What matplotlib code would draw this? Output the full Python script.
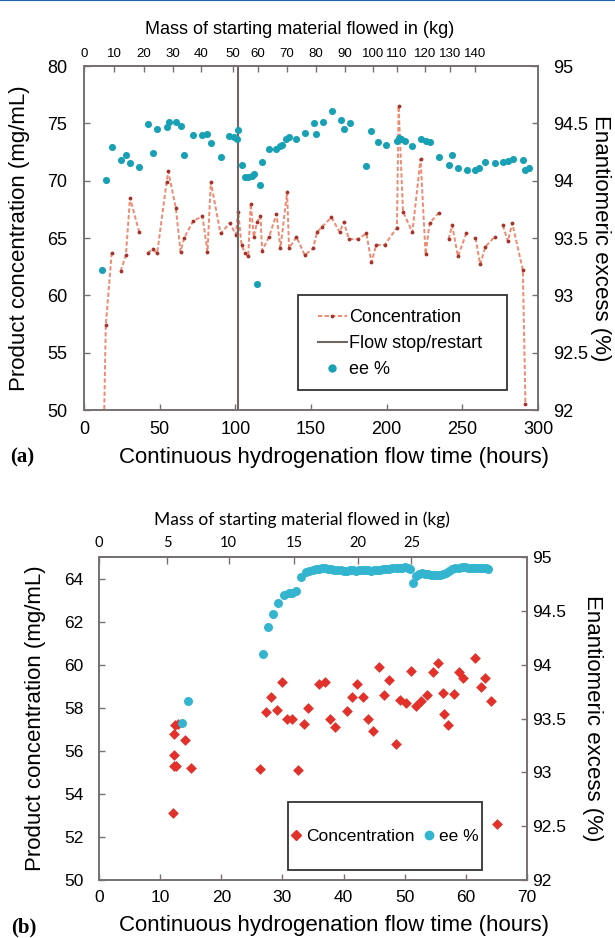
import numpy as np
import matplotlib
matplotlib.use('Agg')
import matplotlib.pyplot as plt
from matplotlib.patches import Rectangle
from matplotlib.lines import Line2D
from matplotlib.ticker import FormatStrFormatter

nan = np.nan

# ---- panel (a): long run, concentration line + ee points ----
# nan = gap in the concentration trace
a_conc_hours = [13.3, 14.4, 18.3, nan, 24.2, 27.7, 30.4, 36.5, nan, 42.0, 45.3, 48.4, 54.6, 55.7,
                60.7, 63.8, 66.2, 72.2, 78.3, 81.6, 83.8, 90.2, 96.4, 100.3, 101.9, 104.1, 106.3,
                108.5, 110.2, 112.2, 114.4, 116.6, 117.7, 122.3, 127.2, 129.8, 134.2, 135.5, 140.4,
                145.9, 151.4, 154.0, 157.5, 163.5, 169.0, 171.6, 175.1, 181.1, 186.6, 189.9, 193.2,
                198.7, 206.8, 207.9, 210.8, 217.0, 222.4, 225.7, 228.4, 234.5, nan, 240.9, 243.3,
                247.1, 252.6, nan, 258.7, 261.8, 265.3, 271.3, nan, 276.8, 280.1, 283.0, 290.0, 291.7]
a_conc = [49.5, 57.4, 63.7, nan, 62.1, 63.5, 68.5, 65.5, nan, 63.7, 64.0, 63.7, 69.9, 70.8,
          67.6, 63.8, 65.0, 66.5, 66.9, 63.8, 69.9, 65.4, 66.3, 65.3, 67.3, 64.4, 63.7,
          63.4, 68.0, 65.1, 66.4, 66.9, 63.9, 65.1, 67.1, 64.1, 69.0, 64.1, 65.1,
          63.5, 64.1, 65.5, 66.0, 66.8, 65.5, 66.4, 64.9, 64.9, 65.4, 62.9, 64.4,
          64.4, 65.9, 76.5, 67.3, 65.5, 71.9, 63.6, 66.3, 67.2, nan, 64.9, 66.1,
          63.4, 65.4, nan, 65.0, 62.7, 64.25, 65.1, nan, 66.1, 64.7, 66.3, 62.2, 50.5]

a_ee_hours = [12.1, 14.3, 18.3, 24.2, 27.7, 30.4, 36.5, 42.5, 45.7, 48.4, 54.6, 56.1, 60.7, 63.8,
              66.2, 72.2, 78.3, 81.6, 84.2, 90.2, 96.1, 99.2, 101.3, 101.9, 104.5, 106.3, 108.5,
              110.7, 112.2, 114.0, 116.2, 117.3, 122.3, 127.2, 129.4, 130.9, 133.8, 135.5, 140.4,
              145.9, 151.8, 153.6, 158.0, 164.2, 170.1, 171.6, 176.0, 186.6, 189.5, 194.3, 199.8,
              206.8, 207.9, 209.7, 211.9, 217.0, 222.4, 225.7, 228.4, 234.9, 240.9, 243.3, 247.1,
              253.0, 258.1, 260.9, 265.3, 271.3, 276.8, 280.1, 283.4, 290.0, 291.7, 293.9]
a_ee = [93.22, 94.01, 94.29, 94.18, 94.22, 94.15, 94.12, 94.49, 94.24, 94.45, 94.47, 94.51, 94.51, 94.48,
        94.22, 94.40, 94.40, 94.41, 94.33, 94.21, 94.39, 94.38, 94.36, 94.44, 94.14, 94.03, 94.03,
        94.04, 94.06, 93.10, 93.96, 94.16, 94.28, 94.28, 94.30, 94.31, 94.36, 94.38, 94.36,
        94.42, 94.50, 94.41, 94.51, 94.61, 94.53, 94.45, 94.50, 94.13, 94.43, 94.34, 94.31,
        94.35, 94.37, 94.36, 94.35, 94.30, 94.36, 94.35, 94.34, 94.21, 94.14, 94.22, 94.11,
        94.09, 94.09, 94.11, 94.16, 94.15, 94.16, 94.17, 94.19, 94.18, 94.09, 94.11]

a_flow_stop = 102
a_mass_kg = [0, 10, 20, 30, 40, 50, 60, 70, 80, 90, 100, 110, 120, 130, 140]
a_mass_hours = [0, 19.8, 39.6, 58.7, 77.2, 98.3, 114.9, 134.0, 153.1, 172.3, 190.8, 206.6,
                225.1, 241.6, 258.7]

# ---- panel (b): short run, scatter only ----
b_conc_hours = [12.1, 12.2, 12.2, 12.3, 12.45, 12.6, 12.9, 14.0, 15.0,
                26.3, 27.25, 28.2, 29.1, 30.0, 30.7, 31.6, 32.6, 33.45, 34.2,
                36.0, 37.0, 37.8, 38.65, 40.5, 41.35, 42.2, 43.2, 44.0, 44.8,
                45.8, 46.6, 47.5, 48.5, 49.3, 50.2, 51.0, 51.9, 52.7, 53.7,
                54.55, 55.4, 56.3, 56.5, 57.0, 58.0, 58.8, 59.6, 61.5, 62.45,
                63.2, 64.1, 65.1]
b_conc = [53.1, 55.3, 56.8, 55.8, 57.2, 55.3, 57.25, 56.5, 55.2,
          55.15, 57.8, 58.5, 57.9, 59.2, 57.5, 57.5, 55.1, 57.25, 58.0,
          59.1, 59.2, 57.5, 57.1, 57.85, 58.5, 59.1, 58.5, 57.5, 56.9,
          59.9, 58.6, 59.3, 56.3, 58.35, 58.2, 59.7, 58.1, 58.3, 58.6,
          59.65, 60.1, 58.7, 57.7, 57.2, 58.65, 59.65, 59.4, 60.3, 58.95,
          59.4, 58.3, 52.6]

b_ee_hours = [13.65, 14.5, 26.9, 27.6, 28.5, 29.3, 30.3, 31.0, 31.6, 32.2, 33.0, 33.8, 34.4,
              35.0, 35.5, 36.0, 36.5, 37.0, 37.5, 38.0, 38.5, 39.0, 39.5, 40.0, 40.5, 41.0,
              41.5, 42.0, 42.5, 43.0, 43.5, 44.0, 44.5, 45.0, 45.5, 46.0, 46.5, 47.0, 47.5,
              48.0, 48.5, 49.0, 49.5, 50.0, 50.5, 50.9, 51.3, 51.8, 52.3, 52.8, 53.3, 53.8,
              54.3, 54.8, 55.3, 55.8, 56.3, 56.8, 57.3, 57.8, 58.3, 58.8, 59.3, 59.8, 60.3,
              60.8, 61.3, 61.8, 62.3, 62.8, 63.3, 63.7]
b_ee = [93.46, 93.66, 94.10, 94.35, 94.47, 94.57, 94.65, 94.67, 94.67, 94.68, 94.81, 94.86, 94.87,
        94.88, 94.89, 94.89, 94.90, 94.90, 94.89, 94.89, 94.88, 94.88, 94.88, 94.87, 94.87, 94.88,
        94.88, 94.87, 94.88, 94.88, 94.88, 94.88, 94.87, 94.88, 94.88, 94.88, 94.89, 94.89, 94.89,
        94.90, 94.90, 94.90, 94.90, 94.91, 94.90, 94.89, 94.76, 94.82, 94.84, 94.85, 94.84, 94.84,
        94.83, 94.83, 94.83, 94.83, 94.84, 94.85, 94.87, 94.89, 94.90, 94.90, 94.91, 94.91, 94.90,
        94.90, 94.90, 94.90, 94.90, 94.90, 94.90, 94.89]

b_mass_kg = [0, 5, 10, 15, 20, 25]
b_mass_hours = [0, 11.2, 21.2, 31.9, 42.4, 51.1]

ee_ticks = [92, 92.5, 93, 93.5, 94, 94.5, 95]

plt.rcParams['font.family'] = ['Liberation Sans', 'DejaVu Sans']

spine_col = '#777070'
W, H = 615, 938


def box(l, t, r, b):
    return [l / W, 1 - b / H, (r - l) / W, (b - t) / H]


def style(ax, left_pad, bottom_pad, size):
    for s in ax.spines.values():
        s.set_color(spine_col)
        s.set_linewidth(1.2)
    ax.tick_params(direction='in', length=4, width=1, color=spine_col, labelsize=size)
    ax.tick_params(axis='y', pad=left_pad)
    ax.tick_params(axis='x', pad=bottom_pad)


fig = plt.figure(figsize=(6.15, 9.38), dpi=100)
fig.add_artist(Line2D([0, 1], [0.9995, 0.9995], color='#1f5fa8', lw=1.5))

# ================= (a) =================
ax = fig.add_axes(box(84, 66, 538, 410))
ax.plot(a_conc_hours, a_conc, ls=(0, (2.2, 1.2)), lw=1.4, color='#ef8a72',
        marker='.', ms=3.5, mfc='#a5352b', mec='#a5352b')
ax.axvline(a_flow_stop, color='#6f6562', lw=1.5)
ax.set_xlim(0, 300)
ax.set_ylim(50, 80)
ax.set_xticks(range(0, 301, 50))
ax.set_yticks(range(50, 81, 5))
style(ax, 12, 8, 13)

ax2 = ax.twinx()
ax2.scatter(a_ee_hours, a_ee, s=26, color='#18a0b4', linewidths=0, zorder=3)
ax2.set_ylim(92, 95)
ax2.set_yticks(ee_ticks)
ax2.yaxis.set_major_formatter(FormatStrFormatter('%g'))
style(ax2, 11, 8, 13)

top = ax.secondary_xaxis('top')
top.set_xticks(a_mass_hours, labels=[str(m) for m in a_mass_kg])
top.tick_params(direction='in', length=4, width=1, color=spine_col, labelsize=9.5, pad=4)
top.spines['top'].set_color(spine_col)
top.spines['top'].set_linewidth(1.2)

ax2.add_patch(Rectangle((0.4714, 0.0581), 0.4604, 0.2762, transform=ax2.transAxes,
                        facecolor='white', edgecolor='#333333', lw=1.3, zorder=5))
handles_a = [
    Line2D([], [], ls=(0, (2.2, 1.2)), lw=1.4, color='#ef8a72', marker='.', ms=3.5,
           mfc='#a5352b', mec='#a5352b'),
    Line2D([], [], color='#6f6562', lw=1.5),
    Line2D([], [], ls='none', marker='o', ms=5, color='#18a0b4'),
]
leg = ax2.legend(handles_a, ['Concentration', 'Flow stop/restart', 'ee %'],
                 loc='center left', bbox_to_anchor=(0.515, 0.192), frameon=False,
                 fontsize=13, handlelength=1.6, handletextpad=0.15, labelspacing=0.5,
                 borderpad=0, borderaxespad=0)
leg.set_zorder(6)

fig.text(300 / W, 1 - 30 / H, 'Mass of starting material flowed in (kg)', ha='center', va='center', fontsize=13)
fig.text(334 / W, 1 - 457 / H, 'Continuous hydrogenation flow time (hours)', ha='center', va='center', fontsize=16)
fig.text(20 / W, 1 - 238 / H, 'Product concentration (mg/mL)', ha='center', va='center', rotation=90, fontsize=16)
fig.text(601 / W, 1 - 238 / H, 'Enantiomeric excess (%)', ha='center', va='center', rotation=270, fontsize=16)
fig.text(22 / W, 1 - 457 / H, '(a)', ha='center', va='center', fontsize=15, fontweight='bold',
         family='Liberation Serif')

# ================= (b) =================
bx = fig.add_axes(box(99, 557, 527, 880))
bx.scatter(b_conc_hours, b_conc, marker='D', s=30, color='#e2302a', linewidths=0, zorder=3)
bx.set_xlim(0, 70)
bx.set_ylim(50, 65)
bx.set_xticks(range(0, 71, 10))
bx.set_yticks(range(50, 65, 2))
style(bx, 11, 7, 12.5)

bx2 = bx.twinx()
bx2.scatter(b_ee_hours, b_ee, s=42, color='#33b5d0', linewidths=0, zorder=3)
bx2.set_ylim(92, 95)
bx2.set_yticks(ee_ticks)
bx2.yaxis.set_major_formatter(FormatStrFormatter('%g'))
style(bx2, 4, 7, 12.5)

btop = bx.secondary_xaxis('top')
btop.set_xticks(b_mass_hours, labels=[str(m) for m in b_mass_kg])
btop.tick_params(direction='in', length=5, width=1, color=spine_col, labelsize=10.5, pad=5)
for lab in btop.get_xticklabels():
    lab.set_family('Lato')
btop.spines['top'].set_color(spine_col)
btop.spines['top'].set_linewidth(1.2)

bx2.add_patch(Rectangle((0.4416, 0.0309), 0.4533, 0.2099, transform=bx2.transAxes,
                        facecolor='white', edgecolor='#333333', lw=1.3, zorder=5))
handles_b = [
    Line2D([], [], ls='none', marker='D', ms=5, color='#e2302a'),
    Line2D([], [], ls='none', marker='o', ms=6, color='#33b5d0'),
]
leg_b = bx2.legend(handles_b, ['Concentration', 'ee %'], loc='center', ncol=2,
                   bbox_to_anchor=(0.668, 0.136), frameon=False, fontsize=12.5,
                   handlelength=0.6, handletextpad=0.3, columnspacing=0.5,
                   borderpad=0, borderaxespad=0)
leg_b.set_zorder(6)

fig.text(302 / W, 1 - 520 / H, 'Mass of starting material flowed in (kg)', ha='center', va='center',
         fontsize=12.5, family='Lato')
fig.text(334 / W, 1 - 925 / H, 'Continuous hydrogenation flow time (hours)', ha='center', va='center', fontsize=16)
fig.text(36 / W, 1 - 718 / H, 'Product concentration (mg/mL)', ha='center', va='center', rotation=90, fontsize=16)
fig.text(592 / W, 1 - 718 / H, 'Enantiomeric excess (%)', ha='center', va='center', rotation=270, fontsize=16)
fig.text(24 / W, 1 - 927 / H, '(b)', ha='center', va='center', fontsize=15, fontweight='bold',
         family='Liberation Serif')

fig.savefig('out.png', dpi=100)
